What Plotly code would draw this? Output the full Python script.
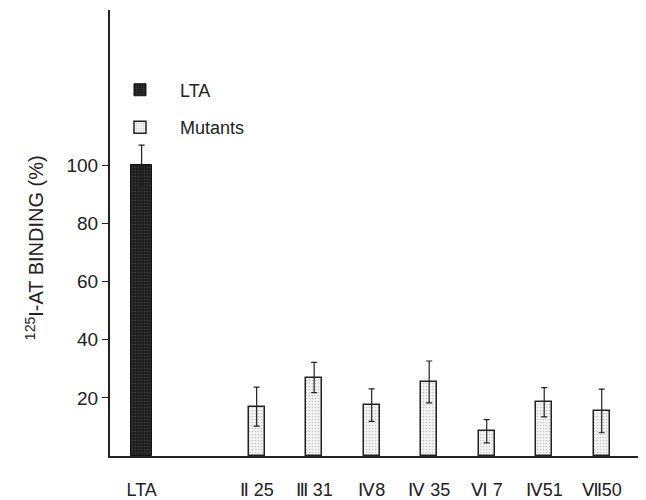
import plotly.graph_objects as go

# Data
lta_label = ["LTA"]
lta_pos = [0]
lta_value = [100]
lta_err = [7]

mutant_labels = ["Ⅱ 25", "Ⅲ 31", "Ⅳ8", "Ⅳ 35", "Ⅵ 7", "Ⅳ51", "Ⅶ50"]
mutant_pos = [2, 3, 4, 5, 6, 7, 8]
mutant_values = [17, 27, 17.5, 25.5, 8.5, 18.5, 15.5]
mutant_err = [6.7, 5.2, 5.6, 7.2, 4.0, 5.0, 7.5]

y_ticks = [20, 40, 60, 80, 100]

fig = go.Figure()
fig.add_trace(go.Bar(
    x=lta_pos, y=lta_value, name="LTA", width=0.36,
    marker=dict(color="#1c1c1c", line=dict(color="#111", width=1),
                pattern=dict(shape=".", fgcolor="#555555", size=3, solidity=0.3)),
    error_y=dict(type="data", array=lta_err, symmetric=True, color="#222", thickness=1.2, width=3),
    legendgroup="a",
))
fig.add_trace(go.Bar(
    x=mutant_pos, y=mutant_values, name="Mutants", width=0.28,
    marker=dict(color="#f4f4f4", line=dict(color="#222", width=1.5),
                pattern=dict(shape=".", fgcolor="#9a9a9a", size=3, solidity=0.25)),
    error_y=dict(type="data", array=mutant_err, symmetric=True, color="#222", thickness=1.2, width=3),
    legendgroup="b",
))

fig.update_layout(
    width=646, height=500,
    margin=dict(l=102, r=8, t=2, b=52),
    paper_bgcolor="white", plot_bgcolor="white",
    font=dict(family="Liberation Sans, Arial, sans-serif", color="#222", size=18),
    showlegend=True,
    legend=dict(x=-0.0187, y=0.862, xanchor="left", yanchor="top",
                font=dict(size=18), tracegroupgap=11, traceorder="grouped",
                itemwidth=70, bgcolor="rgba(0,0,0,0)"),
    bargap=0,
)
fig.update_xaxes(
    range=[-0.55, 8.77],
    tickmode="array", tickvals=lta_pos + mutant_pos, ticktext=lta_label + mutant_labels,
    showline=True, linecolor="#222", linewidth=2, ticks="", showgrid=False,
    zeroline=False, ticklabelstandoff=16, tickfont=dict(size=18),
)
fig.update_yaxes(
    range=[0, 153.5], tickmode="array", tickvals=y_ticks,
    showline=True, linecolor="#222", linewidth=2, ticks="outside", ticklen=6,
    tickcolor="#222", showgrid=False, zeroline=False, tickfont=dict(size=19),
)
fig.add_annotation(
    text="<sup>125</sup>I-AT BINDING (%)", textangle=-90,
    xref="paper", yref="paper", x=-0.142, y=0.468, xanchor="center", yanchor="middle",
    showarrow=False, font=dict(size=20),
)
fig.write_html("out.html")
